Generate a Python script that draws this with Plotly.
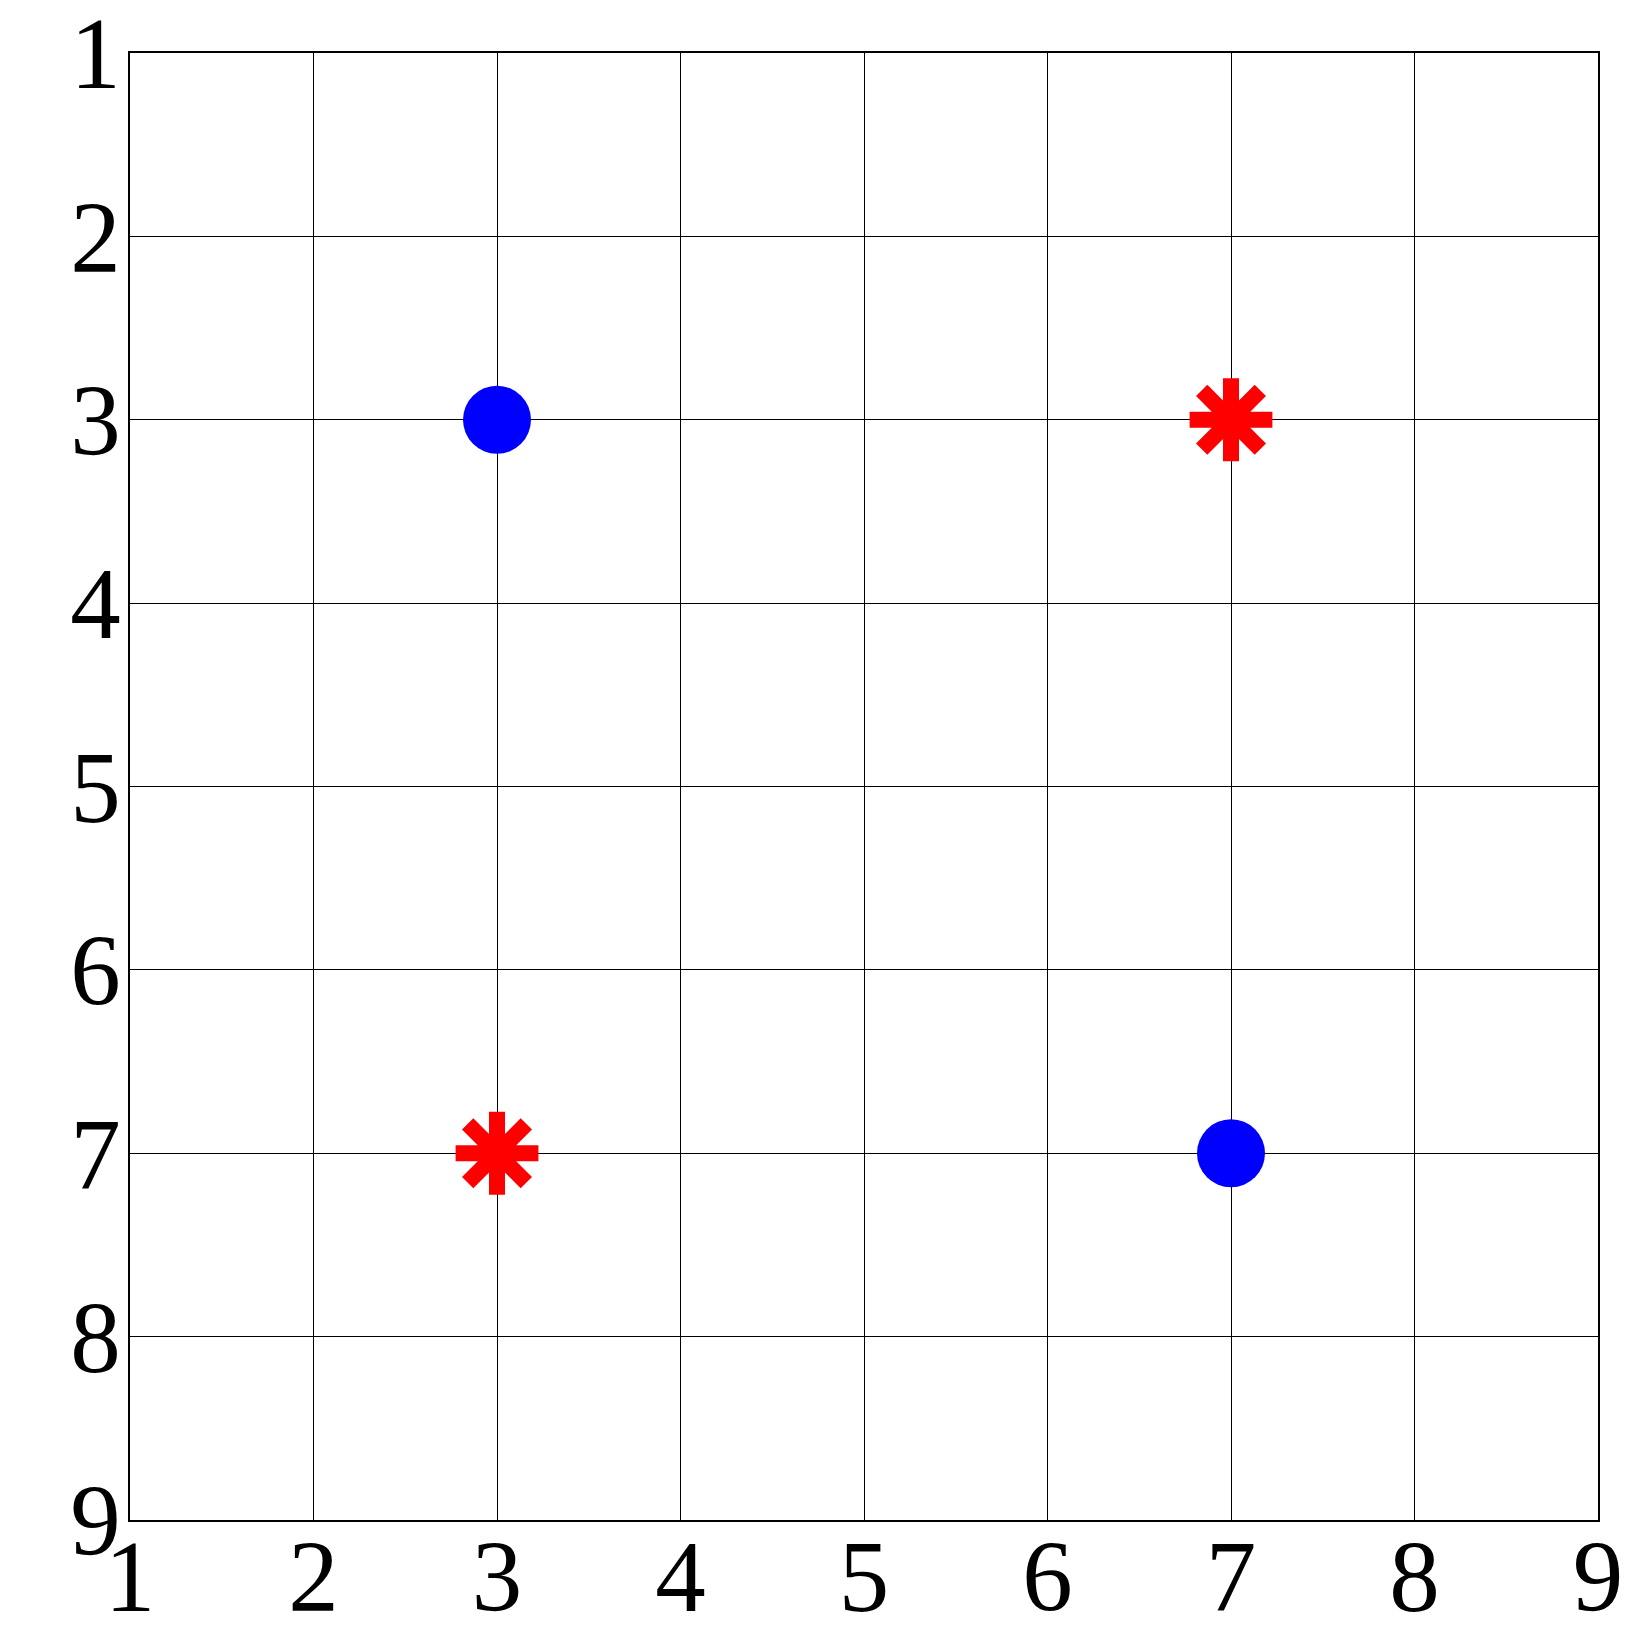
import plotly.graph_objects as go

# marker positions
circle_x = [3, 7]
circle_y = [3, 7]
star_x = [7, 3]
star_y = [3, 7]

ticks = [1, 2, 3, 4, 5, 6, 7, 8, 9]

fig = go.Figure()

fig.add_trace(go.Scatter(
    x=circle_x, y=circle_y, mode='markers',
    marker=dict(symbol='circle', size=68, color='#0000ff', line=dict(width=0)),
    showlegend=False,
))
fig.add_trace(go.Scatter(
    x=star_x, y=star_y, mode='markers',
    marker=dict(symbol='asterisk-open', size=69, color='#ff0000',
                line=dict(width=16, color='#ff0000')),
    showlegend=False,
))

axis_style = dict(
    tickvals=ticks,
    ticktext=[str(t) for t in ticks],
    showgrid=True, gridcolor='black', gridwidth=1,
    showline=True, linecolor='black', linewidth=2, mirror=True,
    zeroline=False, ticks='', automargin=False,
    ticklabeloverflow='allow',
    tickfont=dict(family='Liberation Serif', size=101, color='black'),
)

fig.update_xaxes(range=[1, 9], ticklabelstandoff=-32, **axis_style)
fig.update_yaxes(range=[9, 1], ticklabelstandoff=-13, **axis_style)

# page body has an 8px margin, so the figure is a bit smaller than the window
fig.update_layout(
    width=1630, height=1622,
    margin=dict(l=122, r=40, t=45, b=110),
    plot_bgcolor='white', paper_bgcolor='white',
)

fig.write_html("out.html")
